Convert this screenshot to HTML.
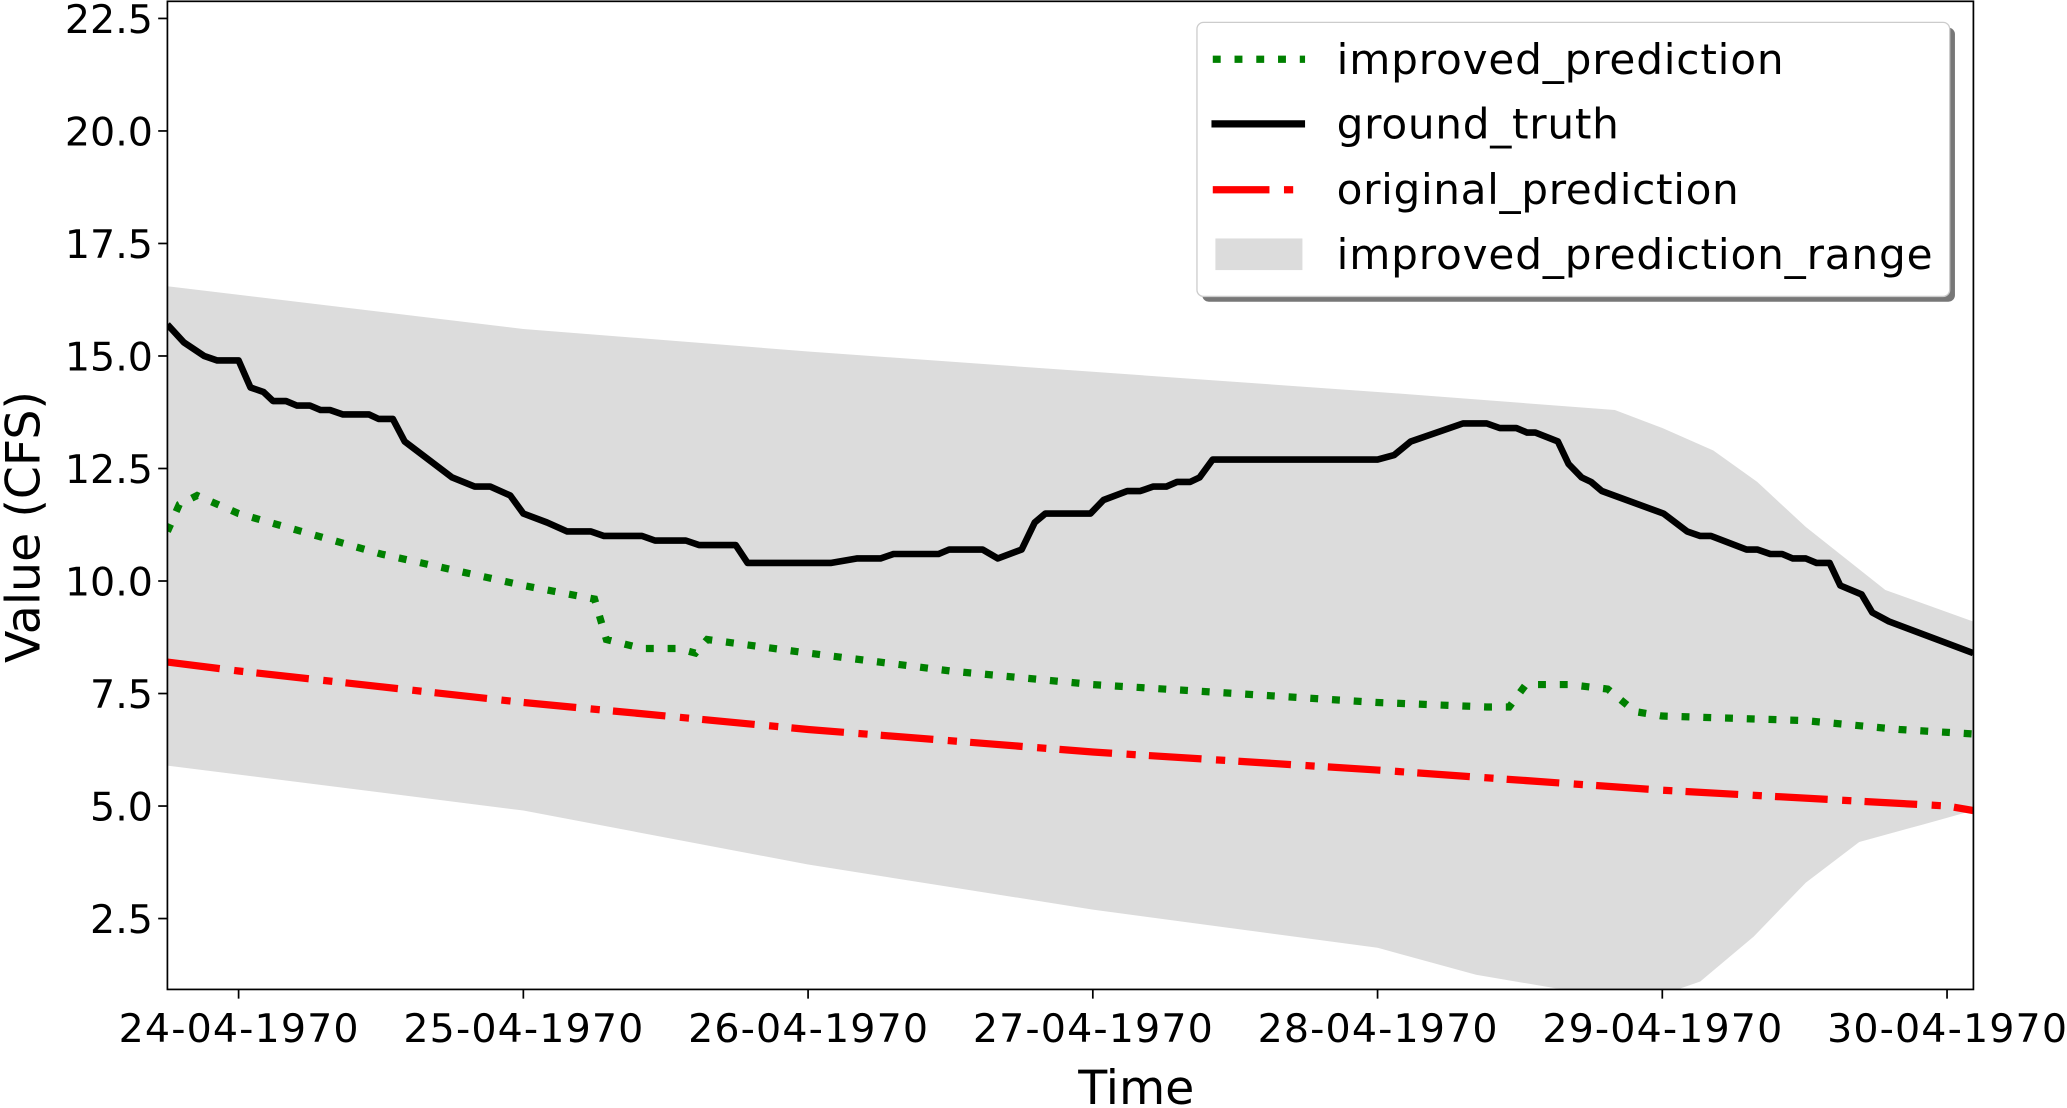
<!DOCTYPE html>
<html><head><meta charset="utf-8"><style>
html,body{margin:0;padding:0;background:#fff;}
svg{display:block;font-family:"DejaVu Sans","Liberation Sans",sans-serif;}
</style></head><body>
<svg id="chart" width="2067" height="1108" viewBox="0 0 1568 841" preserveAspectRatio="none" xmlns="http://www.w3.org/2000/svg">
<defs><clipPath id="pc"><rect x="127" y="1" width="1370" height="750"/></clipPath></defs>
<g id="plot" clip-path="url(#pc)"></g>
<rect x="127" y="1" width="1370" height="750" fill="none" stroke="#000" stroke-width="1.3"/>
<g id="axes"></g>
<text x="862" y="838" font-size="36" text-anchor="middle">Time</text>
<text transform="translate(30,400) rotate(-90)" font-size="36" text-anchor="middle">Value (CFS)</text>
<g>
<rect x="912" y="21" width="571" height="208" rx="5" fill="#777"/>
<rect x="908" y="17" width="571" height="208" rx="5" fill="#fff" stroke="#ccc" stroke-width="1"/>
<g><line x1="920" y1="45" x2="990" y2="45" stroke="#008000" stroke-width="5.5" stroke-dasharray="6,10.5"/><text x="1014" y="56" font-size="32" textLength="339">improved_prediction</text></g>
<g><line x1="919" y1="94" x2="990" y2="94" stroke="#000" stroke-width="5.5"/><text x="1014" y="105" font-size="32" textLength="214">ground_truth</text></g>
<g><line x1="920" y1="144" x2="983" y2="144" stroke="#f00" stroke-width="5.5" stroke-dasharray="43,11,7,10"/><text x="1014" y="155" font-size="32" textLength="305">original_prediction</text></g>
<g><rect x="922" y="181" width="66" height="24" fill="#dcdcdc"/><text x="1014" y="204" font-size="32" textLength="452">improved_prediction_range</text></g>
</g>
</svg>
<script>
// hours from 24-04-1970 00:00
const gtHours=[-6,-4.6,-2.9,-1.8,0,1,2.1,2.9,4,4.9,6,6.9,7.7,8.8,11,11.8,13,14,16,18,19.9,21.2,22.9,24,26,27.7,29.7,30.8,34,35.1,37.7,38.8,41.9,42.9,49.9,52.1,54.1,55.2,59,59.9,62.7,64,66,67.1,68,71.8,72.9,74.9,76,77.1,78.2,79.1,80.2,81,82.1,96,97.4,98.8,103.2,105.2,106.3,107.7,108.6,109.3,111.2,112.1,113.2,114,114.9,120.1,122.1,123.2,124.1,127.1,128,129.1,130.1,131,132.1,133,134.1,135,136.8,137.7,139.1,146.2];
const gtValues=[15.7,15.3,15.0,14.9,14.9,14.3,14.2,14.0,14.0,13.9,13.9,13.8,13.8,13.7,13.7,13.6,13.6,13.1,12.7,12.3,12.1,12.1,11.9,11.5,11.3,11.1,11.1,11.0,11.0,10.9,10.9,10.8,10.8,10.4,10.4,10.5,10.5,10.6,10.6,10.7,10.7,10.5,10.7,11.3,11.5,11.5,11.8,12.0,12.0,12.1,12.1,12.2,12.2,12.3,12.7,12.7,12.8,13.1,13.5,13.5,13.4,13.4,13.3,13.3,13.1,12.6,12.3,12.2,12.0,11.5,11.1,11.0,11.0,10.7,10.7,10.6,10.6,10.5,10.5,10.4,10.4,9.9,9.7,9.3,9.1,8.4];
const impHours=[-6,-5,-3.5,0,12,24,30,31,34,37,38.5,39.5,48,60,72,84,96,105.2,107.1,108.5,112.1,115.4,117.7,120,132,140,146.2];
const impValues=[11.1,11.7,11.9,11.5,10.6,9.9,9.6,8.7,8.5,8.5,8.4,8.7,8.4,8.0,7.7,7.5,7.3,7.2,7.2,7.7,7.7,7.6,7.1,7.0,6.9,6.7,6.6];
const origHours=[-6,0,24,48,72,96,120,144,146.2];
const origValues=[8.2,8.0,7.3,6.7,6.2,5.8,5.35,5.0,4.9];
const upHours=[-6,24,48,72,96,116,120,124.3,128,132.1,138.8,146.2];
const upValues=[16.55,15.6,15.1,14.65,14.2,13.8,13.4,12.9,12.2,11.2,9.8,9.1];
const loHours=[-6,24,48,72,96,104.3,111,119.9,123.2,127.7,132.1,136.6,142.1,146.2];
const loValues=[5.9,4.9,3.7,2.7,1.85,1.25,0.95,0.8,1.1,2.1,3.3,4.2,4.6,4.9];
const yTicks=[2.5,5.0,7.5,10.0,12.5,15.0,17.5,20.0,22.5];
const xTickLabels=["24-04-1970","25-04-1970","26-04-1970","27-04-1970","28-04-1970","29-04-1970","30-04-1970"];

const X=h=>181+h*9;
const Y=v=>14+(22.5-v)/2.5*85.4;
const NS="http://www.w3.org/2000/svg";
const plot=document.getElementById('plot'), axes=document.getElementById('axes');
function mk(tag,attrs,parent){const e=document.createElementNS(NS,tag);for(const k in attrs)e.setAttribute(k,attrs[k]);parent.appendChild(e);return e;}
function pts(hs,vs){return hs.map((h,i)=>X(h).toFixed(1)+','+Y(vs[i]).toFixed(1));}

let band=pts(upHours,upValues).concat(pts(loHours,loValues).reverse());
const bandEl=mk('polygon',{points:band.join(' '),fill:'#dcdcdc'},plot);



const gt=mk('polyline',{points:pts(gtHours,gtValues).join(' '),fill:'none',stroke:'#000','stroke-width':5,'stroke-linejoin':'round'},plot);



const imp=mk('polyline',{points:pts(impHours,impValues).join(' '),fill:'none',stroke:'#008000','stroke-width':5.5,'stroke-dasharray':'6,10.5'},plot);



const org=mk('polyline',{points:pts(origHours,origValues).join(' '),fill:'none',stroke:'#f00','stroke-width':5.5,'stroke-dasharray':'40,11,7,10'},plot);



yTicks.forEach(v=>{
  const y=Y(v);
  const t=mk('line',{x1:120,x2:127,y1:y,y2:y,stroke:'#000','stroke-width':1.3},axes);
  
  
  const l=mk('text',{x:116,y:y+11,'font-size':30,'text-anchor':'end'},axes);
  l.textContent=v.toFixed(1);
  
  
});
xTickLabels.forEach((s,i)=>{
  const x=X(i*24);
  const t=mk('line',{x1:x,x2:x,y1:751,y2:758,stroke:'#000','stroke-width':1.3},axes);
  
  
  const l=mk('text',{x:x,y:791,'font-size':30,'text-anchor':'middle',textLength:182},axes);
  l.textContent=s;
  
  
});
</script>
</body></html>
